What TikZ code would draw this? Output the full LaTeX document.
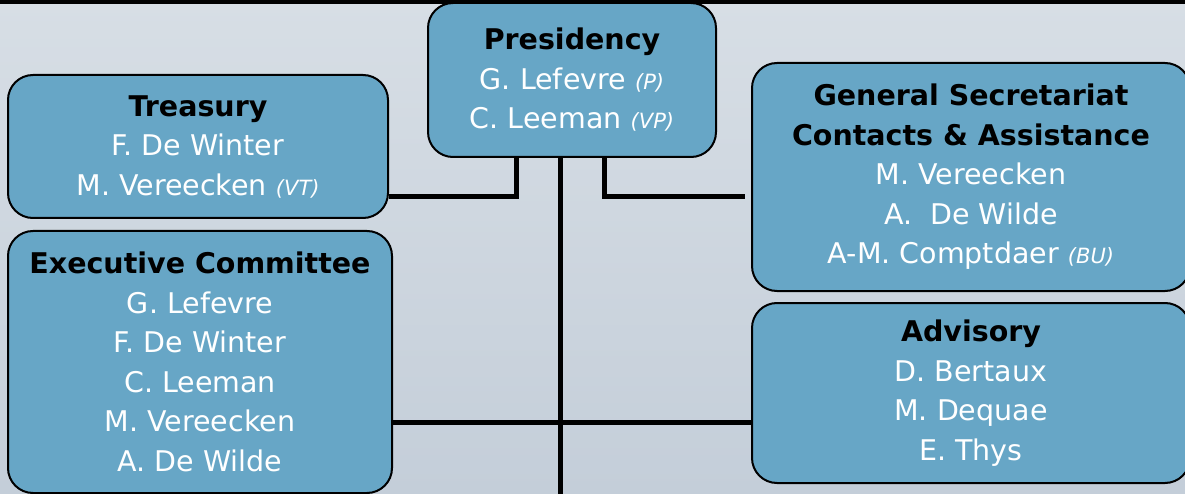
\documentclass[tikz,border=0pt]{standalone}
\usepackage{fontspec}
\setmainfont{DejaVu Sans}
\usetikzlibrary{backgrounds}
\definecolor{boxblue}{RGB}{103,166,198}
\definecolor{bgtop}{RGB}{215,222,229}
\definecolor{bgbot}{RGB}{196,206,217}
\newcommand{\role}[1]{{\fontsize{21}{39}\selectfont\itshape #1}}
\newcommand{\hd}[1]{{\color{black}\bfseries #1}}
\tikzset{
  orgbox/.style={draw=black, line width=2pt, fill=boxblue, rounded corners=25pt,
    align=center, text=white, inner sep=0pt,
    font=\fontsize{28.5}{39.5}\selectfont},
  conn/.style={draw=black, line width=5pt}
}
\begin{document}
\begin{tikzpicture}[x=1pt,y=-1pt]
\useasboundingbox (0,0) rectangle (1185,494);
\node[orgbox, minimum width=288pt, minimum height=154pt] (pres) at (572,80)
  {\hd{Presidency}\\G. Lefevre \role{(P)}\\C. Leeman \role{(VP)}};
\node[orgbox, minimum width=380pt, minimum height=143pt] (treas) at (198,146.5)
  {\hd{Treasury}\\F. De Winter\\M. Vereecken \role{(VT)}};
\node[orgbox, minimum width=438pt, minimum height=228pt] (gs) at (971,177)
  {\hd{General Secretariat}\\\hd{Contacts \& Assistance}\\M. Vereecken\\A.\ \ De Wilde\\A-M. Comptdaer \role{(BU)}};
\node[orgbox, minimum width=384pt, minimum height=262pt] (exec) at (200,362)
  {\hd{Executive Committee}\\G. Lefevre\\F. De Winter\\C. Leeman\\M. Vereecken\\A. De Wilde};
\node[orgbox, minimum width=438pt, minimum height=180pt] (adv) at (971,393)
  {\hd{Advisory}\\D. Bertaux\\M. Dequae\\E. Thys};
\coordinate (lj) at (516,197);
\coordinate (rj) at (604,197);
\coordinate (cb) at (560,494);
\coordinate (hj) at (560,422);
\begin{scope}[on background layer]
  \shade[top color=bgtop, bottom color=bgbot] (0,0) rectangle (1185,494);
  \fill[black] (0,0) rectangle (1185,4);
  \draw[conn] (lj |- pres.south) -- (lj) -- (lj -| treas.east);
  \draw[conn, shorten >=6pt] (rj |- pres.south) -- (rj) -- (rj -| gs.west);
  \draw[conn] (cb |- pres.south) -- (cb);
  \draw[conn] (hj -| exec.east) -- (hj -| adv.west);
\end{scope}
\end{tikzpicture}
\end{document}
